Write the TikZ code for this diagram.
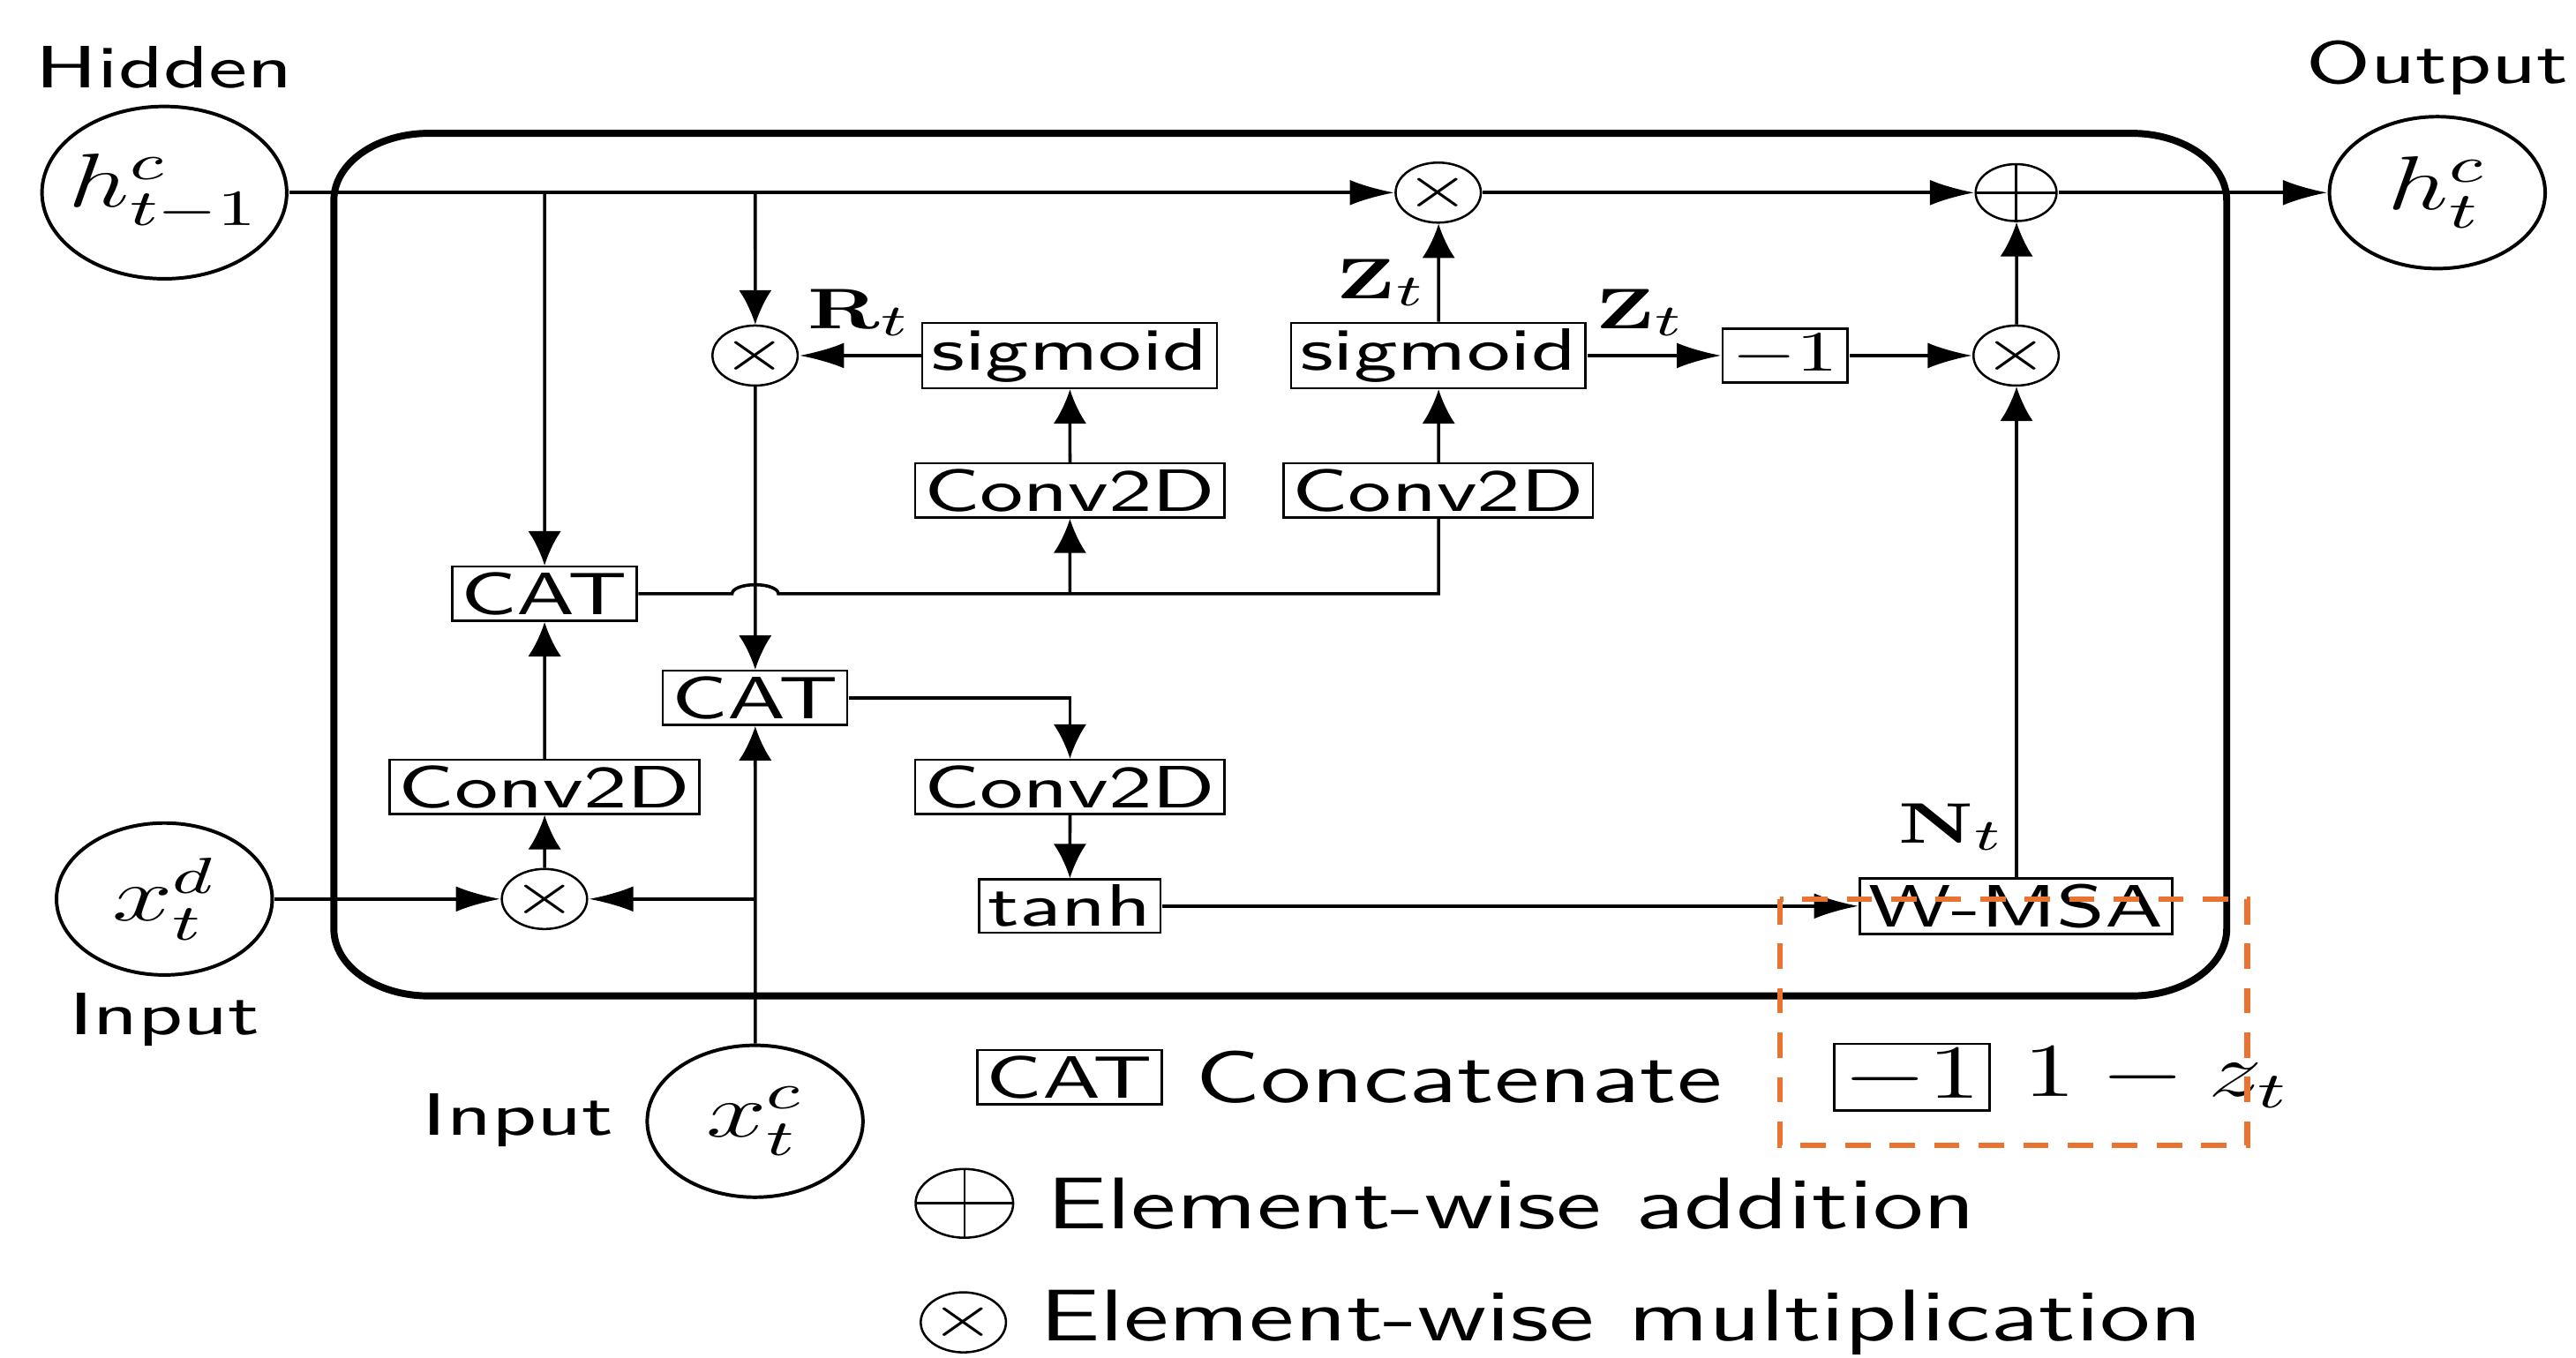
\documentclass[tikz,border=0pt]{standalone}
\usepackage{amsmath}
\usetikzlibrary{arrows.meta, positioning}

\definecolor{dashorange}{RGB}{233,116,50}

\begin{document}
\begin{tikzpicture}[
		xscale=1.42, transform shape,
		font=\fontsize{9.4}{11}\selectfont\sffamily,
		% Connectors between the blocks (vertical and horizontal heads)
		flow/.style={line width=0.5pt},
		arr/.style={flow, -{Latex[length=5.4pt, width=5.2pt]}},
		harr/.style={flow, -{Latex[length=7pt, width=4pt]}},
		% Operation boxes (Conv2D, sigmoid, CAT, ...)
		opbox/.style={draw, line width=0.35pt, inner xsep=1pt, inner ysep=0.9pt},
		% Element-wise operators
		mulop/.style={circle, draw, line width=0.35pt, inner sep=0pt, minimum size=0.315cm},
		addop/.style={mulop, path picture={
				\draw[line width=0.35pt] (path picture bounding box.north) -- (path picture bounding box.south)
				(path picture bounding box.west) -- (path picture bounding box.east);}},
		% Hidden states and inputs
		state/.style={circle, draw, line width=0.55pt, inner sep=1pt, minimum size=0.84cm, font=\fontsize{11.5}{13}\selectfont},
		labelstyle/.style={inner sep=1pt},
		legendstyle/.style={font=\fontsize{11.5}{13}\selectfont\sffamily}
		]
		
		\useasboundingbox (0,0) rectangle (10.03,-7.507);
		
		% =========================================================================
		% CELL BORDER
		% =========================================================================
		\draw[line width=1.1pt] (1.67,-0.737) -- (8.30,-0.737) arc[start angle=90, end angle=0, radius=0.37]
		-- (8.67,-5.137) arc[start angle=0, end angle=-90, radius=0.37]
		-- (1.67,-5.507) arc[start angle=270, end angle=180, radius=0.37]
		-- (1.30,-1.107) arc[start angle=180, end angle=90, radius=0.37] -- cycle;
		
		% =========================================================================
		% STATES AND INPUTS
		% =========================================================================
		\node[state] (hprev) at (0.64,-1.065) {$h^c_{t-1}$};
		\node[state] (hnext) at (9.49,-1.065) {$h^c_t$};
		\node[state] (xd) at (0.64,-4.971) {$x^d_t$};
		\node[state] (xc) at (2.94,-6.2) {$x^c_t$};
		
		\node[labelstyle] (hidtxt) at (0.64,-0.375) {Hidden};
		\node[labelstyle] (outtxt) at (9.49,-0.375) {Output};
		\node[labelstyle] (intxtd) at (0.64,-5.64) {Input};
		\node[labelstyle, anchor=east] (intxtc) at (2.43,-6.195) {Input};
		
		% =========================================================================
		% GATES
		% =========================================================================
		\node[mulop] (zmul) at (5.60,-1.065) {$\times$};
		\node[addop] (hadd) at (7.85,-1.065) {};
		
		\node[mulop] (rmul) at (2.94,-1.966) {$\times$};
		\node[opbox] (sigr) at (4.165,-1.966) {sigmoid};
		\node[opbox] (sigz) at (5.60,-1.966) {sigmoid};
		\node[opbox] (minus) at (6.95,-1.966) {$-1$};
		\node[mulop] (nmul) at (7.85,-1.966) {$\times$};
		
		\node[opbox] (convr) at (4.165,-2.712) {Conv2D};
		\node[opbox] (convz) at (5.60,-2.712) {Conv2D};
		
		\node[opbox] (cat1) at (2.12,-3.283) {CAT};
		\node[opbox] (cat2) at (2.94,-3.859) {CAT};
		\node[opbox] (convx) at (2.12,-4.351) {Conv2D};
		\node[opbox] (convh) at (4.165,-4.351) {Conv2D};
		\node[mulop] (xmul) at (2.12,-4.971) {$\times$};
		\node[opbox] (tanh) at (4.165,-5.01) {tanh};
		\node[opbox] (wmsa) at (7.85,-5.01) {W-MSA};
		
		\coordinate (jumpin) at (2.85,-3.283);
		
		% =========================================================================
		% CONNECTORS
		% =========================================================================
		\draw[harr] (hprev) -- (zmul);
		\draw[harr] (zmul) -- (hadd);
		\draw[harr] (hadd) -- (hnext);
		\draw[arr] (hprev.east -| cat1) -- (cat1);
		\draw[arr] (hprev.east -| rmul) -- (rmul);
		
		\draw[harr] (sigr) -- node[labelstyle, above, yshift=1.8pt] (rlab) {$\mathbf{R}_t$} (rmul);
		\draw[arr] (convr) -- (sigr);
		\draw[arr] (convz) -- (sigz);
		\draw[arr] (sigz) -- node[labelstyle, left, pos=0.4] (zlabup) {$\mathbf{Z}_t$} (zmul);
		\draw[harr] (sigz) -- node[labelstyle, above, pos=0.4, yshift=1.8pt] (zlabright) {$\mathbf{Z}_t$} (minus);
		\draw[harr] (minus) -- (nmul);
		\draw[arr] (nmul) -- (hadd);
		\draw[arr] (wmsa) -- (nmul);
		\node[labelstyle, anchor=south east] (nlab) at ([yshift=3pt]wmsa.north) {$\mathbf{N}_t$};
		
		% CAT line jumps over the reset branch
		\draw[flow] (cat1.east) -- (jumpin) arc[start angle=180, end angle=0, x radius=0.09, y radius=0.05]
		-- (cat1.east -| convz) -- (convz);
		\draw[arr] (cat1.east -| convr) -- (convr);
		
		\draw[arr] (rmul) -- (cat2);
		\draw[arr] (cat2) -| (convh);
		\draw[arr] (convh) -- (tanh);
		\draw[harr] (tanh) -- (wmsa);
		
		\draw[arr] (xc) -- (cat2);
		\draw[harr] (xc.north |- xmul) -- (xmul);
		\draw[harr] (xd) -- (xmul);
		\draw[arr] (xmul) -- (convx);
		\draw[arr] (convx) -- (cat1);
		
		% =========================================================================
		% LEGEND
		% =========================================================================
		\node[opbox] (catkey) at (4.165,-5.956) {CAT};
		\node[legendstyle, right=0pt of catkey] (cattxt) {Concatenate};
		
		\node[opbox, legendstyle] (minuskey) at (7.444,-5.956) {$-1$};
		\node[legendstyle, right=0pt of minuskey] (minustxt) {$1 - z_t$};
		
		\node[addop, minimum size=0.38cm] (addkey) at (3.755,-6.654) {};
		\node[legendstyle, right=0pt of addkey] (addtxt) {Element-wise addition};
		
		\node[mulop] (mulkey) at (3.751,-7.312) {$\times$};
		\node[legendstyle, right=0pt of mulkey] (multxt) {Element-wise multiplication};
		
		\draw[dashorange, line width=0.9pt, dash pattern=on 4pt off 3pt] (6.93,-4.971) rectangle (8.75,-6.332);
		
	\end{tikzpicture}
\end{document}
